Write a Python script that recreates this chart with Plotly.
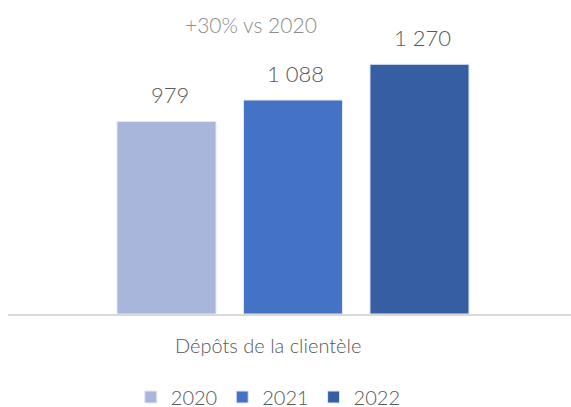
import plotly.graph_objects as go

category = ["Dépôts de la clientèle"]
years = ["2020", "2021", "2022"]
values = [979, 1088, 1270]
labels = ["979", "1 088", "1 270"]
bar_colors = ["#A9B6DB", "#4472C4", "#365EA3"]

font_family = "Lato"
text_color = "#595959"

W, H = 571, 407
m_l, m_r, m_t, m_b = 8, 0, 20, 93
bargap, bargroupgap = 0.326, 0.217
plot_w = W - m_l - m_r
plot_h = H - m_t - m_b
slot_px = plot_w * (1 - bargap) / len(years)

fig = go.Figure()
for yr, val, col in zip(years, values, bar_colors):
    fig.add_trace(go.Bar(
        x=category, y=[val], name=yr, marker_color=col,
        marker_line=dict(color="#E4E9F4", width=1),
    ))

label_font = dict(size=22, color=text_color, family=font_family, weight=300)

# value labels above each bar
annotations = []
for i, (val, lab) in enumerate(zip(values, labels)):
    annotations.append(dict(
        text=lab, x=category[0], y=val, xref="x", yref="y",
        xshift=(i - 1) * slot_px + 3, yshift=11, yanchor="bottom",
        showarrow=False, font=label_font,
    ))
annotations += [
    dict(text="+30% vs 2020", x=(251 - m_l) / plot_w, y=(plot_h - 4) / plot_h,
         xref="paper", yref="paper", xanchor="center", yanchor="middle",
         showarrow=False, font=dict(size=21, color="#8C8C8C", family=font_family, weight=300)),
    dict(text=category[0], x=(268 - m_l) / plot_w, y=-31 / plot_h,
         xref="paper", yref="paper", xanchor="center", yanchor="middle",
         showarrow=False, font=dict(size=20, color=text_color, family=font_family, weight=300)),
]

fig.update_layout(
    width=W, height=H,
    barmode="group", bargap=bargap, bargroupgap=bargroupgap,
    plot_bgcolor="white", paper_bgcolor="white",
    margin=dict(l=m_l, r=m_r, t=m_t, b=m_b, autoexpand=False),
    font=dict(family=font_family, color=text_color),
    showlegend=True,
    legend=dict(orientation="h", x=264 / W, xanchor="center", yref="container",
                y=10 / H, yanchor="middle",
                font=dict(size=20, color=text_color, family=font_family, weight=300),
                traceorder="normal"),
    annotations=annotations,
)
fig.update_xaxes(range=[-0.5062, 0.4938], showticklabels=False, ticks="",
                 showline=True, linecolor="#D9D9D9", linewidth=2, showgrid=False)
fig.update_yaxes(range=[0, 1495], visible=False)

# drop the default page margin so the figure fills the window exactly
fig.write_html("out.html", config={"displayModeBar": False},
               post_script="document.body.style.margin='0';")
